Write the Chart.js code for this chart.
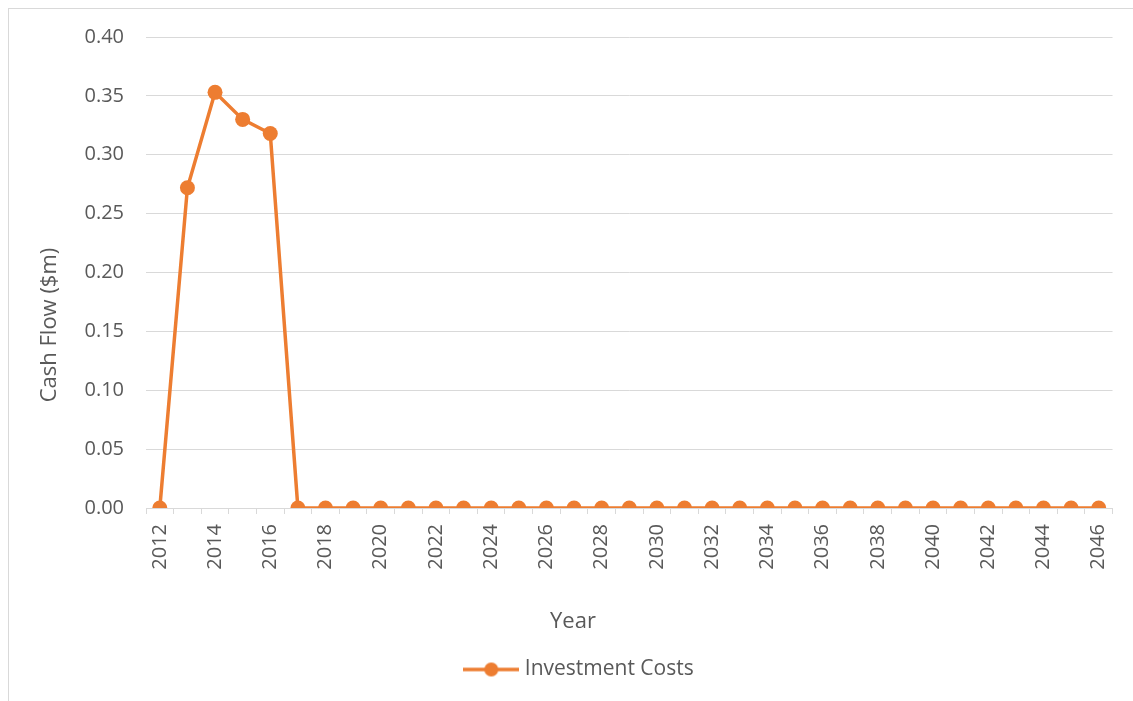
<!DOCTYPE html>
<html>
<head>
<meta charset="utf-8">
<script src="https://cdn.jsdelivr.net/npm/chart.js@4"></script>
<style>
  html, body { margin: 0; padding: 0; background: #fff; overflow: hidden; }
  #wrap { position: relative; width: 1133px; height: 701px; }
  #frame { position: absolute; left: 8px; top: 8px; width: 1140px; height: 700px;
           border: 1px solid #d9d9d9; box-sizing: border-box; }
  canvas { position: absolute; left: 0; top: 0; }
</style>
</head>
<body>
<div id="wrap">
  <div id="frame"></div>
  <canvas id="cashChart" width="1133" height="701"></canvas>
</div>
<script>
const years = [];
for (let y = 2012; y <= 2046; y++) years.push(String(y));

const investmentCosts = [
  0, 0.272, 0.353, 0.330, 0.318, 0,
  0, 0, 0, 0, 0, 0, 0, 0, 0, 0,
  0, 0, 0, 0, 0, 0, 0, 0, 0, 0,
  0, 0, 0, 0, 0, 0, 0, 0, 0
];

const xTitle = 'Year';
const yTitle = 'Cash Flow ($m)';

const orange = '#ED7D31';
const textGrey = '#595959';
const gridGrey = '#d9d9d9';
const fontFamily = "'Open Sans', sans-serif";

// legend marker: line with a dot in the middle
const marker = document.createElement('canvas');
marker.width = 56;
marker.height = 16;
const mctx = marker.getContext('2d');
mctx.strokeStyle = orange;
mctx.lineWidth = 3.5;
mctx.beginPath();
mctx.moveTo(0, 8);
mctx.lineTo(56, 8);
mctx.stroke();
mctx.fillStyle = orange;
mctx.beginPath();
mctx.arc(28, 8, 7, 0, Math.PI * 2);
mctx.fill();

// axis titles are placed like the original (not centred on the plot)
const axisTitlePlugin = {
  id: 'axisTitles',
  afterDraw(chart) {
    const c = chart.ctx;
    c.save();
    c.fillStyle = textGrey;
    c.font = "22px " + fontFamily;
    c.textAlign = 'center';
    c.textBaseline = 'middle';
    c.fillText(xTitle, 573, 622);
    c.translate(50, 325);
    c.rotate(-Math.PI / 2);
    c.fillText(yTitle, 0, 0);
    c.restore();
  },
};

const ctx = document.getElementById('cashChart').getContext('2d');
const cashChart = new Chart(ctx, {
  type: 'line',
  data: {
    labels: years,
    datasets: [
      {
        label: 'Investment Costs',
        data: investmentCosts,
        borderColor: orange,
        backgroundColor: orange,
        borderWidth: 3.5,
        pointRadius: 7.5,
        pointHoverRadius: 7.5,
        pointBorderWidth: 0,
        tension: 0,
      },
    ],
  },
  plugins: [axisTitlePlugin],
  options: {
    responsive: false,
    animation: false,
    layout: { padding: { top: 37, right: 19, bottom: 11, left: 48 } },
    plugins: {
      tooltip: { enabled: false },
      legend: {
        position: 'bottom',
        labels: {
          color: textGrey,
          font: { family: fontFamily, size: 21 },
          usePointStyle: true,
          pointStyleWidth: 46,
          padding: 10,
          generateLabels: chart => [{
            text: chart.data.datasets[0].label,
            pointStyle: marker,
            fillStyle: orange,
            strokeStyle: orange,
            lineWidth: 0,
            fontColor: textGrey,
            datasetIndex: 0,
          }],
        },
      },
    },
    scales: {
      x: {
        offset: true,
        grid: {
          offset: true,
          drawOnChartArea: false,
          drawTicks: true,
          tickLength: 6,
          color: gridGrey,
        },
        border: { color: gridGrey, width: 1 },
        ticks: {
          autoSkip: false,
          maxRotation: 90,
          minRotation: 90,
          padding: 10,
          color: textGrey,
          font: { family: fontFamily, size: 20 },
          callback: function (value, index) {
            return index % 2 === 0 ? this.getLabelForValue(value) : '';
          },
        },
        title: { display: false },
        afterFit: scale => { scale.height = 141; },
      },
      y: {
        min: 0,
        max: 0.4,
        grid: { color: gridGrey, drawTicks: false, lineWidth: 1 },
        border: { display: false },
        ticks: {
          stepSize: 0.05,
          padding: 22,
          color: textGrey,
          font: { family: fontFamily, size: 20 },
          callback: v => v.toFixed(2),
        },
        title: { display: false },
        afterFit: scale => { scale.width = 98; },
      },
    },
  },
});
</script>
</body>
</html>
